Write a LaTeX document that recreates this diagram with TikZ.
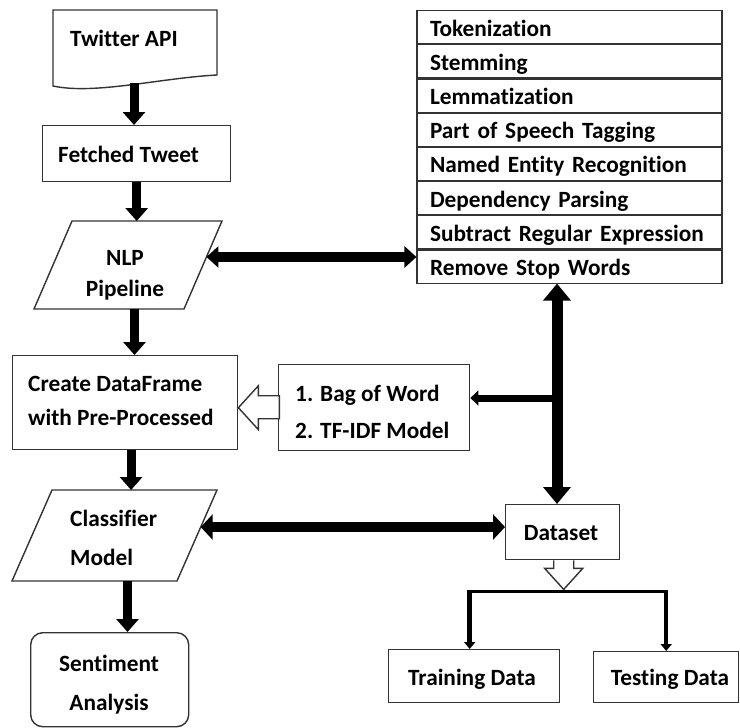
\documentclass[tikz,border=0pt]{standalone}
\usepackage{fontspec}
\setmainfont{Carlito}[Ligatures=NoCommon]
\usetikzlibrary{arrows.meta,calc}
% invisible strut that fixes the height of a first text line
\newcommand\capstrut{\rule{0pt}{19pt}}

\begin{document}
\begin{tikzpicture}[x=1pt,y=-1pt,
  outline/.style={draw=black!80,line width=1.4pt,line join=miter},
  lbl/.style={font=\bfseries\fontsize{23.3}{28}\selectfont,inner sep=0pt,text=black},
  lines/.style={lbl,font=\bfseries\fontsize{23.3}{#1}\selectfont},
  frame/.style={outline,inner sep=0pt,anchor=north west},
  row/.style={outline,line width=1.1pt,lbl,minimum width=305pt,minimum height=33.1pt,
    text width=279pt,align=left,text height=18pt,text depth=0pt,anchor=north},
  heavy/.style={line width=9pt,-{Triangle[length=13pt,width=22pt]}},
  heavyboth/.style={line width=9.5pt,
    {Triangle[length=12pt,width=21pt]}-{Triangle[length=12pt,width=21pt]}},
  wideboth/.style={line width=10pt,
    {Triangle[length=12pt,width=25pt]}-{Triangle[length=12pt,width=25pt]}},
  spine/.style={line width=11pt,
    {Triangle[length=17pt,width=27pt]}-{Triangle[length=17pt,width=27pt]}},
  feed/.style={line width=7pt,-{Triangle[length=8pt,width=15pt]}},
  forkdown/.style={line width=4.5pt,-{Triangle[length=7pt,width=11pt]}},
]
\useasboundingbox (0,0) rectangle (740,728);
\fill[white] (0,0) rectangle (740,728);

% ---------- left column ----------
% Twitter API (document shape)
\coordinate (api-nw) at (53,10);
\coordinate (api-ne) at (217,10);
\coordinate (api-se) at (217,75);
\coordinate (api-sw) at (53,86);
\draw[outline,fill=white] (api-nw) -- (api-ne) -- (api-se)
  .. controls (160,78) and (95,95) .. (api-sw) -- cycle;
\node[lbl,anchor=base west] (api) at (70,46.7) {Twitter API};
\coordinate (api-out) at (134,83);

% Fetched Tweet
\node[frame,minimum width=188pt,minimum height=56pt] (fetched) at (42,125) {};
\node[lbl,anchor=base west] (fetchedT) at (58,162) {Fetched Tweet};

% NLP Pipeline (parallelogram)
\coordinate (nlp-nw) at (72,221);
\coordinate (nlp-ne) at (222,221);
\coordinate (nlp-se) at (184,309);
\coordinate (nlp-sw) at (34,309);
\draw[outline,fill=white] (nlp-nw) -- (nlp-ne) -- (nlp-se) -- (nlp-sw) -- cycle;
\node[lines=31.7,align=center,anchor=north] (nlp) at (125,246) {\capstrut NLP\\Pipeline};

% DataFrame
\node[frame,minimum width=225pt,minimum height=94pt] (df) at (12,355) {};
\node[lines=33.3,align=left,anchor=north west] (dfT) at (28,372.7)
  {\capstrut Create DataFrame\\with Pre-Processed};

% Classifier Model (parallelogram)
\coordinate (cls-nw) at (52,490);
\coordinate (cls-ne) at (217,490);
\coordinate (cls-se) at (177,581);
\coordinate (cls-sw) at (12,581);
\draw[outline,fill=white] (cls-nw) -- (cls-ne) -- (cls-se) -- (cls-sw) -- cycle;
\node[lines=38.3,align=left,anchor=north west] (cls) at (70,507.7) {\capstrut Classifier\\Model};

% Sentiment Analysis
\node[frame,rounded corners=12pt,minimum width=158pt,minimum height=94pt] (sent) at (30,632) {};
\node[lines=38.3,align=center,anchor=north] (sentT) at (109,652.7) {\capstrut Sentiment\\Analysis};

% ---------- right column ----------
% pipeline steps
\node[row] (r1) at (569.5,10) {Tokenization};
\node[row] (r2) at (r1.south) {Stemming};
\node[row] (r3) at (r2.south) {Lemmatization};
\node[row] (r4) at (r3.south) {Part of Speech Tagging};
\node[row] (r5) at (r4.south) {Named Entity Recognition};
\node[row] (r6) at (r5.south) {Dependency Parsing};
\node[row] (r7) at (r6.south) {Subtract Regular Expression};
\node[row] (r8) at (r7.south) {Remove Stop Words};

% feature models
\node[frame,minimum width=191pt,minimum height=86pt] (bag) at (278,364) {};
\node[lines=36.3,align=left,anchor=north west] (bagT) at (295,382.7)
  {\capstrut 1. Bag of Word\\2. TF-IDF Model};

% dataset and its split
\node[frame,minimum width=114pt,minimum height=55pt] (ds) at (505,504) {};
\node[lbl,anchor=base] (dsT) at (561,540) {Dataset};
\node[frame,minimum width=171pt,minimum height=53pt] (train) at (388,649) {};
\node[lbl,anchor=base] (trainT) at (472,685) {Training Data};
\node[frame,minimum width=145pt,minimum height=51pt] (test) at (593,651) {};
\node[lbl,anchor=base] (testT) at (670,685) {Testing Data};

% ---------- connectors ----------
\draw[heavy] (api-out) -- (api-out |- fetched.north);
\draw[heavy] (fetched.south) -- (fetched.south |- nlp-nw);
\coordinate (nlp-out) at ($(nlp-sw)!0.67!(nlp-se)$);
\draw[heavy] (nlp-out) -- (nlp-out |- df.north);
\coordinate (df-out) at ($(df.south west)!0.526!(df.south east)$);
\draw[heavy] (df-out) -- (df-out |- cls-nw);
\coordinate (cls-out) at ($(cls-sw)!0.7!(cls-se)$);
\draw[heavy] (cls-out) -- (cls-out |- sent.north);

% pipeline link
\coordinate (nlp-side) at ($(nlp-ne)!0.409!(nlp-se)$);
\draw[heavyboth] (nlp-side) -- (nlp-side -| r8.west);

% classifier link
\coordinate (cls-side) at ($(cls-ne)!0.407!(cls-se)$);
\draw[wideboth] (cls-side) -- (cls-side -| ds.west);

% steps <-> dataset, with a branch into the feature models
\coordinate (hub) at (557,398);
\draw[spine] (hub |- r8.south) -- (hub |- ds.north);
\draw[feed] (hub) -- (hub -| bag.east);

% hollow arrow: feature models -> DataFrame
\draw[outline,fill=white] (bag.west -| df.east) -- ++(20,-22) -- ++(0,10) -- ++(21,0)
  -- ++(0,23) -- ++(-21,0) -- ++(0,11) -- cycle;

% hollow arrow out of the dataset
\draw[outline,fill=white] ([xshift=-9pt]ds.south) -- ++(0,8) -- ++(-9,0)
  -- ++(19,21) coordinate (split) -- ++(19,-21) -- ++(-9,0) -- ++(0,-8);

% split into training and testing data
\coordinate (fork) at ($(split)+(0,2.5)$);
\coordinate (train-in) at ([xshift=-4.5pt]train.north);
\coordinate (test-in) at (test.north);
\draw[line width=3pt] ($(fork -| train-in)+(-2.25,0)$) -- ($(fork -| test-in)+(2.25,0)$);
\draw[forkdown] ($(fork -| train-in)+(0,-1.5)$) -- (train-in);
\draw[forkdown] ($(fork -| test-in)+(0,-1.5)$) -- (test-in);
\end{tikzpicture}
\end{document}
